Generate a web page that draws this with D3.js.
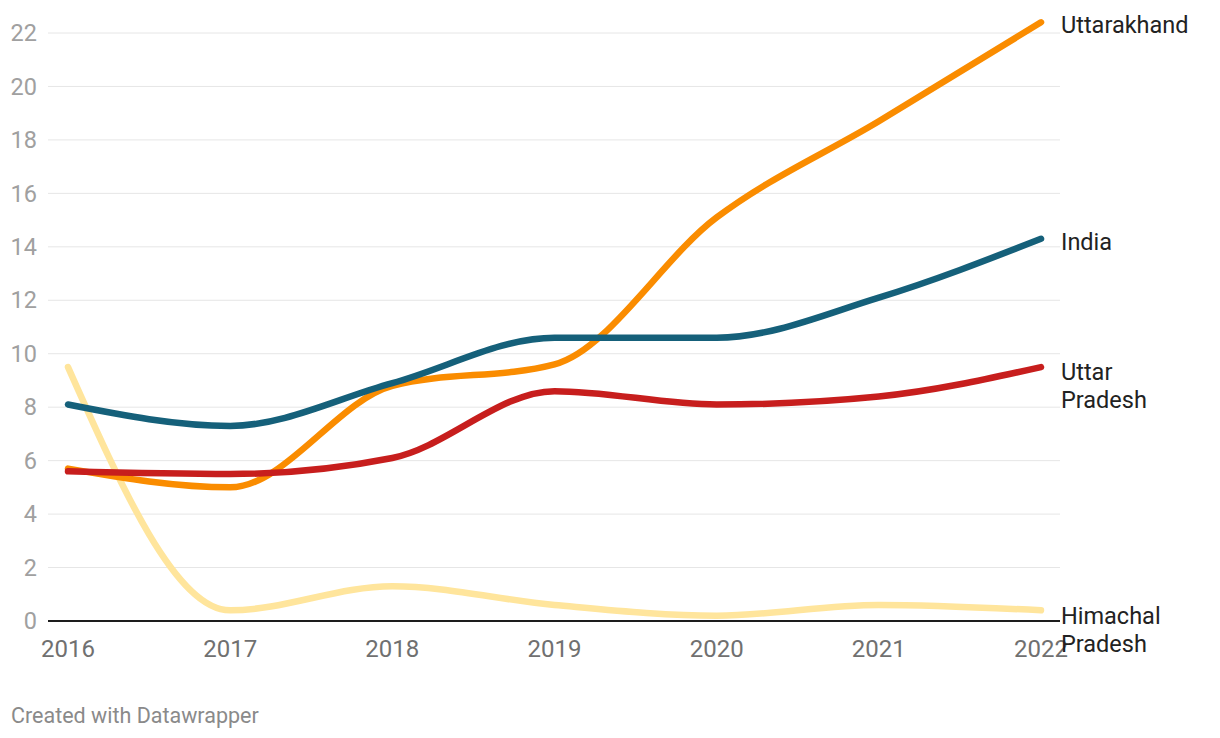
<!DOCTYPE html>
<html><head><meta charset="utf-8">
<script src="https://cdn.jsdelivr.net/npm/d3@7"></script>
<style>
html,body{margin:0;padding:0;background:#fff;}
svg{display:block;font-family:Roboto,"Noto Sans",sans-serif;}
</style></head>
<body>
<svg id="chart" width="1220" height="738"></svg>
<script>
const years = [2016, 2017, 2018, 2019, 2020, 2021, 2022];
const india = [8.1, 7.3, 8.9, 10.6, 10.6, 12.1, 14.3];
const uttarakhand = [5.7, 5.0, 8.8, 9.6, 15.1, 18.7, 22.4];
const uttarPradesh = [5.6, 5.5, 6.1, 8.6, 8.1, 8.4, 9.5];
const himachal = [9.5, 0.4, 1.3, 0.6, 0.2, 0.6, 0.4];
const yTicks = [0, 2, 4, 6, 8, 10, 12, 14, 16, 18, 20, 22];
const seriesNames = ["Himachal Pradesh", "Uttarakhand", "India", "Uttar Pradesh"];
const seriesColors = ["#ffe59c", "#fa8c00", "#15607a", "#c71e1d"];
const seriesValues = [himachal, uttarakhand, india, uttarPradesh];
const labelLines = [["Himachal", "Pradesh"], ["Uttarakhand"], ["India"], ["Uttar", "Pradesh"]];

const svg = d3.select("#chart");
const x = d3.scaleLinear().domain([2016, 2022]).range([68, 1041]);
const y = d3.scaleLinear().domain([0, 22]).range([621, 33]);

// grid
const grid = svg.append("g");
grid.selectAll("line").data(yTicks.filter(d => d !== 0)).join("line")
  .attr("x1", 48).attr("x2", 1060)
  .attr("y1", d => y(d)).attr("y2", d => y(d))
  .attr("stroke", "#e6e6e6").attr("stroke-width", 1);

// y labels
svg.append("g").selectAll("text").data(yTicks).join("text")
  .attr("x", 37).attr("y", d => y(d)).attr("dy", "0.35em")
  .attr("text-anchor", "end").attr("fill", "#a0a0a0")
  .attr("font-size", 23.5).text(d => d);

// x labels
svg.append("g").selectAll("text").data(years).join("text")
  .attr("x", d => x(d)).attr("y", 649).attr("dy", "0.35em")
  .attr("text-anchor", "middle").attr("fill", "#707070")
  .attr("font-size", 24).text(d => d);

// lines
const line = d3.line().x((d, i) => x(years[i])).y(d => y(d)).curve(d3.curveMonotoneX);
svg.append("g").selectAll("path").data(seriesValues).join("path")
  .attr("d", d => line(d))
  .attr("fill", "none")
  .attr("stroke", (d, i) => seriesColors[i])
  .attr("stroke-width", 6.5)
  .attr("stroke-linecap", "round")
  .attr("stroke-linejoin", "round");

// zero line
svg.append("line").attr("x1", 48).attr("x2", 1060)
  .attr("y1", y(0)).attr("y2", y(0))
  .attr("stroke", "#1d1d1d").attr("stroke-width", 2);

// series labels
const lblOffsets = [[616, 644], [25], [242], [372, 400]];
seriesNames.forEach((n, i) => {
  const t = svg.append("text").attr("x", 1061).attr("fill", "#222").attr("font-size", 23.5);
  labelLines[i].forEach((l, j) => {
    t.append("tspan").attr("x", 1061).attr("y", lblOffsets[i][j]).attr("dy", "0.35em").text(l);
  });
});

// footer
svg.append("text").attr("x", 11).attr("y", 715).attr("dy", "0.35em")
  .attr("fill", "#8a8a8a").attr("font-size", 21.5).text("Created with Datawrapper");
</script>
</body></html>
